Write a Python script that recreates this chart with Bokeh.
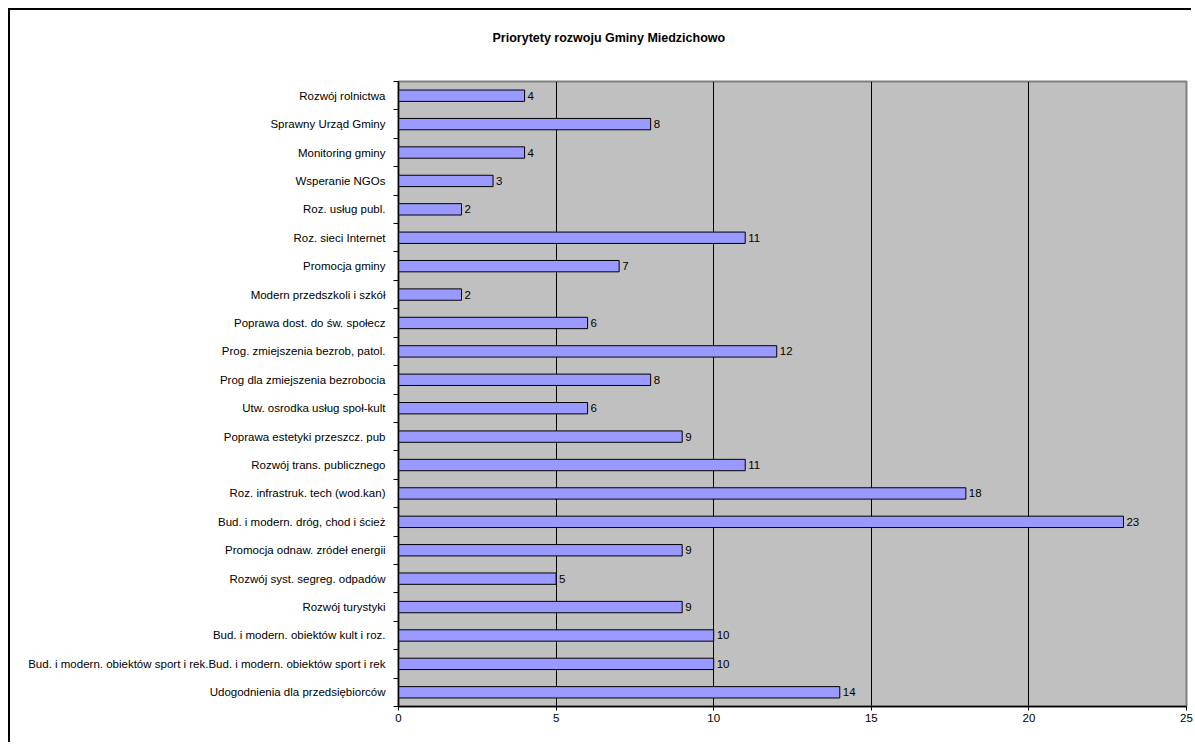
from bokeh.plotting import figure
from bokeh.models import ColumnDataSource, FixedTicker, Range1d, Title
from bokeh.core.properties import value
from bokeh.embed import file_html
from bokeh.resources import INLINE

title_text = "Priorytety rozwoju Gminy Miedzichowo"

# categories listed top to bottom as in the chart
categories = [
    "Rozwój rolnictwa",
    "Sprawny Urząd Gminy",
    "Monitoring gminy",
    "Wsperanie NGOs",
    "Roz. usług publ.",
    "Roz. sieci Internet",
    "Promocja gminy",
    "Modern przedszkoli i szkół",
    "Poprawa dost. do św. społecz",
    "Prog. zmiejszenia bezrob, patol.",
    "Prog dla zmiejszenia bezrobocia",
    "Utw. osrodka usług społ-kult",
    "Poprawa estetyki przeszcz. pub",
    "Rozwój trans. publicznego",
    "Roz. infrastruk. tech (wod.kan)",
    "Bud. i modern. dróg, chod i ścież",
    "Promocja odnaw. zródeł energii",
    "Rozwój syst. segreg. odpadów",
    "Rozwój turystyki",
    "Bud. i modern. obiektów kult i roz.",
    "Bud. i modern. obiektów sport i rek.Bud. i modern. obiektów sport i rek",
    "Udogodnienia dla przedsiębiorców",
]
values = [4, 8, 4, 3, 2, 11, 7, 2, 6, 12, 8, 6, 9, 11, 18, 23, 9, 5, 9, 10, 10, 14]
x_ticks = [0, 5, 10, 15, 20, 25]

n = len(categories)
ypos = [n - 1 - i for i in range(n)]
src = ColumnDataSource(dict(y=ypos, v=values, t=[str(v) for v in values], c=categories))

FONT = "Liberation Sans"

p = figure(width=1183, height=734, output_backend="svg", toolbar_location=None,
           x_range=Range1d(0, 25), y_range=Range1d(-0.5, n - 0.5),
           min_border_left=388, min_border_right=7, min_border_top=71, min_border_bottom=38)
p.styles = {"box-shadow": "-2px -2px 0px 0px black",
            "margin-left": "10px", "margin-top": "10px"}

p.background_fill_color = "#C0C0C0"
p.border_fill_color = "white"
p.outline_line_color = "#808080"
p.outline_line_width = 2

# blank spacer between frame and title, then the title itself
spacer = Title(text=" ", standoff=21, text_font=FONT, text_font_size="12.5px")
p.add_layout(spacer, "above")
title = Title(text=title_text, align="left", offset=94, standoff=0,
              text_font=FONT, text_font_size="12.5px", text_font_style="bold",
              text_color="black")
p.add_layout(title, "above")

p.hbar(y="y", right="v", left=0, height=0.4, source=src,
       fill_color="#9999FF", line_color="black", line_width=1)
p.text(x="v", y="y", text="t", source=src, x_offset=3, text_baseline="middle",
       text_align="left", text_font=value(FONT), text_font_size="11.5px", text_color="black")

# x axis
p.xaxis.ticker = FixedTicker(ticks=x_ticks)
p.xaxis.major_tick_in = 0
p.xaxis.major_tick_out = 4
p.xaxis.minor_tick_line_color = None
p.xaxis.axis_line_color = "black"
p.xaxis.axis_line_width = 1.5
p.xaxis.major_tick_line_color = "black"
p.xaxis.major_label_text_font = FONT
p.xaxis.major_label_text_font_size = "11.5px"
p.xaxis.major_label_text_color = "black"
p.xaxis.major_label_standoff = 3

# y axis: labels at category centres, tick marks at category boundaries
p.yaxis.ticker = FixedTicker(ticks=ypos, minor_ticks=[k - 0.5 for k in range(n + 1)])
p.yaxis.major_label_overrides = {y: c for y, c in zip(ypos, categories)}
p.yaxis.major_tick_line_color = None
p.yaxis.major_tick_in = 0
p.yaxis.major_tick_out = 0
p.yaxis.minor_tick_in = 0
p.yaxis.minor_tick_out = 5
p.yaxis.minor_tick_line_color = "black"
p.yaxis.axis_line_color = "black"
p.yaxis.axis_line_width = 1.5
p.yaxis.major_label_text_font = FONT
p.yaxis.major_label_text_font_size = "11.5px"
p.yaxis.major_label_text_color = "black"
p.yaxis.major_label_standoff = 8

p.xgrid.grid_line_color = "black"
p.xgrid.grid_line_width = 1
p.ygrid.grid_line_color = None

open("out.html", "w").write(file_html(p, INLINE))
